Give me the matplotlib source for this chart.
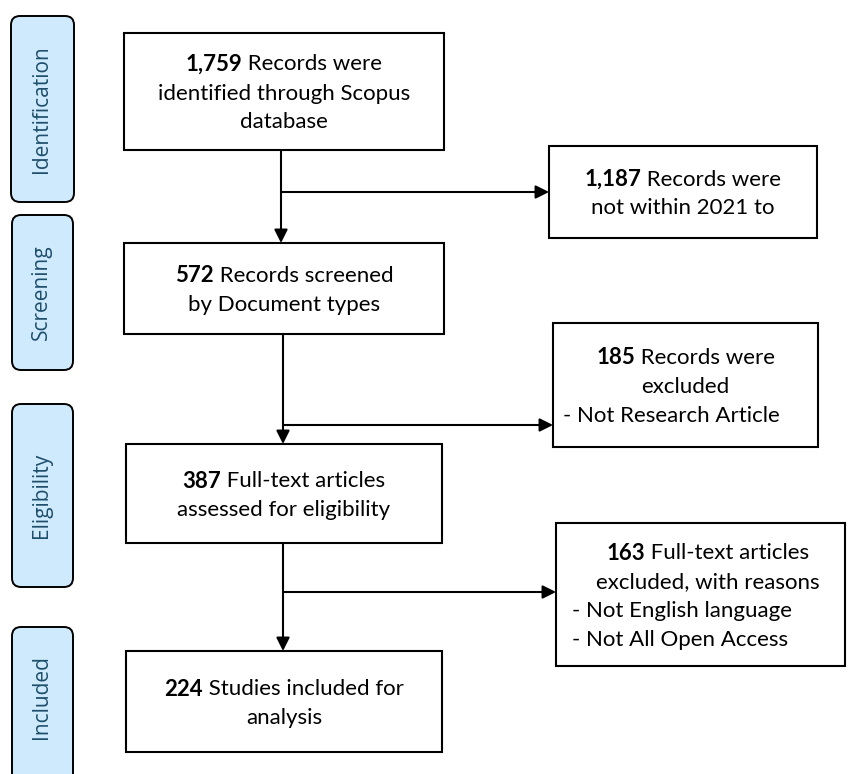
import matplotlib
matplotlib.use('Agg')
import matplotlib.pyplot as plt
from matplotlib.patches import Rectangle, FancyBboxPatch

# ------------------------------------------------------------------
# Flow data (PRISMA-style screening counts)
# ------------------------------------------------------------------
stages = ['Identification', 'Screening', 'Eligibility', 'Included']

main_counts = ['1,759', '572', '387', '224']
main_lines = [
    [' Records were', 'identified through Scopus', 'database'],
    [' Records screened', 'by Document types'],
    [' Full-text articles', 'assessed for eligibility'],
    [' Studies included for', 'analysis'],
]

side_counts = ['1,187', '185', '163']
side_lines = [
    [' Records were', 'not within 2021 to'],
    [' Records were', 'excluded'],
    [' Full-text articles', 'excluded, with reasons'],
]
side_reasons = [
    [],
    ['- Not Research Article'],
    ['- Not English language', '- Not All Open Access'],
]

# ------------------------------------------------------------------
# Layout in pixels (x0, y0, x1, y1), y measured from the top
# ------------------------------------------------------------------
W, H = 848, 774
stage_boxes = [(11, 16, 74, 202), (12, 215, 73, 370), (12, 404, 73, 587), (12, 627, 73, 800)]
main_boxes = [(124, 33, 444, 150), (124, 243, 444, 334), (126, 444, 442, 543), (126, 651, 442, 752)]
side_boxes = [(549, 146, 817, 238), (553, 323, 818, 447), (556, 523, 845, 666)]
side_text_x = [None, None, 708]
reason_x = [None, 563, 572]
branch_y = [192, 425, 592]
trunk_x = [281, 283, 283]

FS = 16
LINE = 29
TEXT_DY = 2
FONT = 'Lato'
STAGE_COLOR = '#1d4e6b'
STAGE_FILL = '#cfeafc'

fig = plt.figure(figsize=(W / 100, H / 100), dpi=100)
ax = fig.add_axes([0, 0, 1, 1])
ax.set_xlim(0, W)
ax.set_ylim(H, 0)
ax.axis('off')
renderer = fig.canvas.get_renderer()


def draw_line(x, y, segs, ha='center'):
    texts = [ax.text(0, y, s, fontsize=FS, fontweight=w, family=FONT,
                     va='center', ha='left', color='black') for s, w in segs]
    widths = [t.get_window_extent(renderer).width for t in texts]
    x0 = x - sum(widths) / 2 if ha == 'center' else x
    for t, w in zip(texts, widths):
        t.set_x(x0)
        x0 += w


def draw_box(box, count, lines, reasons=(), rx=None, cx=None):
    x0, y0, x1, y1 = box
    ax.add_patch(Rectangle((x0, y0), x1 - x0, y1 - y0, fill=False,
                           edgecolor='black', lw=1.5))
    rows = [[(count, 'bold'), (lines[0], 'normal')]] + [[(l, 'normal')] for l in lines[1:]]
    n = len(rows) + len(reasons)
    cy = (y0 + y1) / 2 + TEXT_DY
    ys = [cy + (i - (n - 1) / 2) * LINE for i in range(n)]
    if cx is None:
        cx = (x0 + x1) / 2
    for y, segs in zip(ys, rows):
        draw_line(cx, y, segs)
    for y, r in zip(ys[len(rows):], reasons):
        draw_line(rx, y, [(r, 'normal')], ha='left')


# stage labels
for (x0, y0, x1, y1), name in zip(stage_boxes, stages):
    ax.add_patch(FancyBboxPatch((x0, y0), x1 - x0, y1 - y0,
                                boxstyle='round,pad=0,rounding_size=9',
                                facecolor=STAGE_FILL, edgecolor='black', lw=1.4))
    ty = (y0 + y1) / 2 if y1 < H else 697
    ax.text((x0 + x1) / 2 - 1, ty, name, rotation=90, ha='center', va='center',
            fontsize=15, family='Open Sans', color=STAGE_COLOR)

# main column
for box, c, l in zip(main_boxes, main_counts, main_lines):
    draw_box(box, c, l)

# side (excluded) boxes
for box, c, l, r, cx, rx in zip(side_boxes, side_counts, side_lines, side_reasons,
                                side_text_x, reason_x):
    draw_box(box, c, l, r, rx=rx, cx=cx)

# arrows
arrow_kw = dict(arrowstyle='-|>', color='black', lw=1.5, mutation_scale=20,
                shrinkA=0, shrinkB=0)
for i in range(3):
    x = trunk_x[i]
    ax.annotate('', xy=(x, main_boxes[i + 1][1]), xytext=(x, main_boxes[i][3]),
                arrowprops=arrow_kw)
    ax.annotate('', xy=(side_boxes[i][0], branch_y[i]), xytext=(x, branch_y[i]),
                arrowprops=arrow_kw)

fig.savefig('out.png', dpi=100)
